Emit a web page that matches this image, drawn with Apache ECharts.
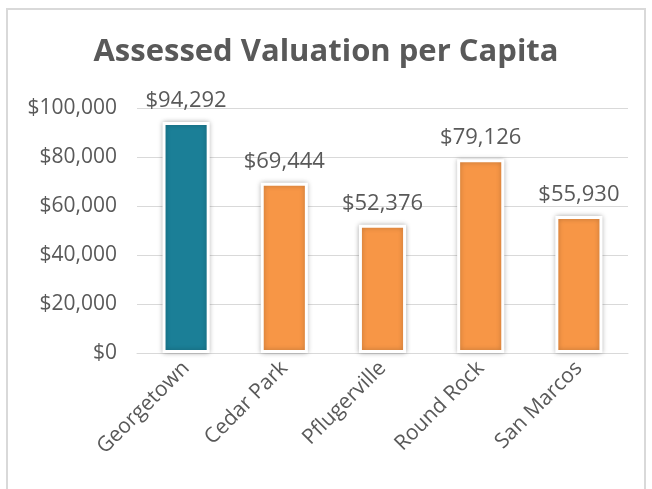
<!DOCTYPE html>
<html>
<head>
<meta charset="utf-8">
<script src="https://cdn.jsdelivr.net/npm/echarts@6/dist/echarts.min.js"></script>
<style>
  html, body { margin: 0; padding: 0; background: #fff; }
  #chart { width: 652px; height: 489px; }
</style>
</head>
<body>
<div id="chart"></div>
<script>
  // data
  var cities = ['Georgetown', 'Cedar Park', 'Pflugerville', 'Round Rock', 'San Marcos'];
  var valuation = [94292, 69444, 52376, 79126, 55930];
  var barColors = ['#1b7f97', '#f79646', '#f79646', '#f79646', '#f79646'];

  var myChart = echarts.init(document.getElementById('chart'));

  function money(v) {
    return '$' + Number(v).toLocaleString('en-US');
  }

  myChart.setOption({
    backgroundColor: '#fff',
    animation: false,
    textStyle: { fontFamily: 'Open Sans' },
    graphic: [{
      type: 'rect',
      shape: { x: 7, y: 9, width: 638, height: 500 },
      style: { fill: 'none', stroke: '#d9d9d9', lineWidth: 2 }
    }],
    title: {
      text: 'Assessed Valuation per Capita',
      left: 'center',
      top: 32,
      textStyle: { fontSize: 31, fontWeight: 'bold', color: '#595959', fontFamily: 'Open Sans' }
    },
    grid: { left: 137, right: 24, top: 108, bottom: 136 },
    xAxis: {
      type: 'category',
      data: cities,
      axisTick: { show: false },
      axisLine: { lineStyle: { color: '#d9d9d9', width: 1 } },
      axisLabel: { rotate: 45, fontSize: 21, color: '#595959', margin: 12 }
    },
    yAxis: {
      type: 'value',
      min: 0,
      max: 100000,
      interval: 20000,
      axisLine: { show: false },
      axisTick: { show: false },
      splitLine: { lineStyle: { color: '#d9d9d9', width: 1 } },
      axisLabel: { fontSize: 21, color: '#595959', margin: 20, formatter: money }
    },
    series: [{
      type: 'bar',
      barWidth: '48%',
      data: valuation.map(function (v, i) {
        return { value: v, itemStyle: { color: barColors[i] } };
      }),
      itemStyle: {
        borderColor: '#fff',
        borderWidth: 3,
        shadowBlur: 5,
        shadowColor: 'rgba(0,0,0,0.25)'
      },
      label: {
        show: true,
        position: 'top',
        distance: 10,
        fontSize: 22,
        color: '#595959',
        formatter: function (p) { return money(p.value); }
      }
    }]
  });
</script>
</body>
</html>
